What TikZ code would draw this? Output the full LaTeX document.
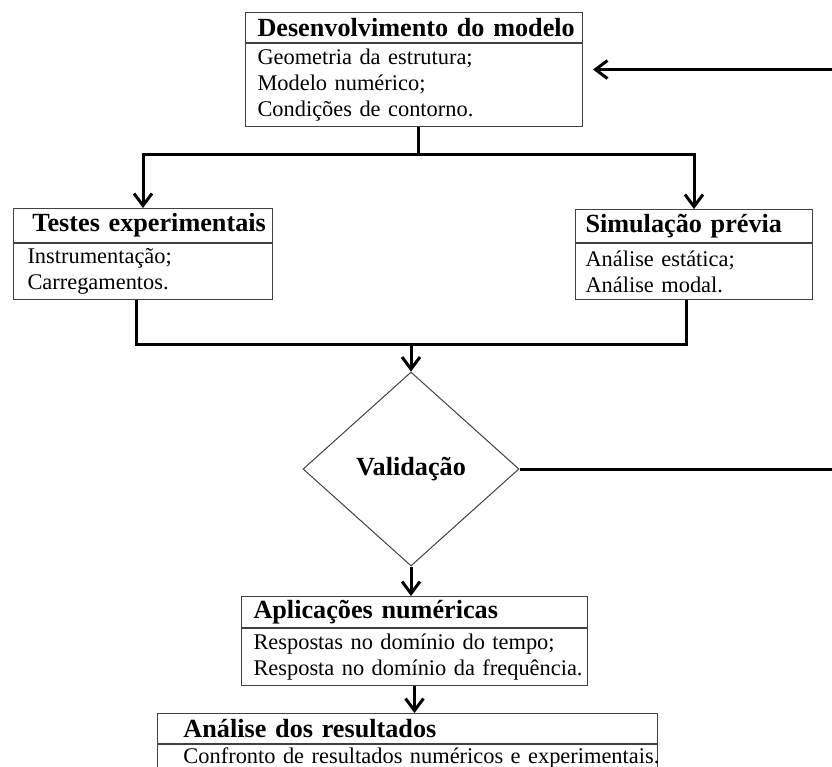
\documentclass[tikz,border=0pt]{standalone}
\usepackage{fontspec}
\setmainfont{Liberation Serif}
\usetikzlibrary{arrows.meta,positioning,shapes.geometric}

\begin{document}
\begin{tikzpicture}[x=0.5pt,y=-0.5pt,node distance=0pt,
  >={Straight Barb[length=6pt,width=9pt]},
  head/.style={draw=black!75,line width=0.5pt,align=left,anchor=north west,inner ysep=0pt,
    font={\fontsize{13.1}{15}\selectfont\bfseries}},
  body/.style={draw=black!75,line width=0.5pt,align=left,inner ysep=0pt,
    font={\fontsize{11.2}{13}\selectfont}},
  decision/.style={draw=black!75,line width=0.5pt,diamond,inner sep=0pt,
    font={\fontsize{13.1}{15}\selectfont\bfseries}},
  link/.style={line width=1.5pt}]
\useasboundingbox (0,0) rectangle (832,767);
\node[head,inner xsep=6pt,text width=156.5pt,minimum height=15pt] (toph) at (245,12) {\mbox{Desenvolvimento do modelo}};
\node[body,inner xsep=6pt,text width=156.5pt,minimum height=41.5pt,below=of toph] (topb) {Geometria da estrutura;\\ Modelo numérico;\\ Condições de contorno.};
\node[head,inner xsep=9.5pt,text width=110.5pt,minimum height=17pt] (testh) at (13,208) {\mbox{Testes experimentais}};
\node[body,inner xsep=7pt,text width=115.5pt,minimum height=28pt,below=of testh] (testb) {Instrumentação;\\ Carregamentos.};
\node[head,inner xsep=5pt,text width=108.5pt,minimum height=16.5pt] (simh) at (575,209) {\mbox{Simulação prévia}};
\node[body,inner xsep=5pt,text width=108.5pt,minimum height=28pt,below=of simh] (simb) {Análise estática;\\ Análise modal.};
\node[decision,minimum width=108pt,minimum height=97pt] (valid) at (411,469) {Validação};
\node[head,inner xsep=6pt,text width=161pt,minimum height=15.5pt] (aplh) at (241,596) {\mbox{Aplicações numéricas}};
\node[body,inner xsep=6pt,text width=161pt,minimum height=28.5pt,below=of aplh] (aplb) {\mbox{Respostas no domínio do tempo;}\\ \mbox{Resposta no domínio da frequência.}};
\node[head,inner xsep=13pt,text width=224pt,minimum height=15pt] (anah) at (157,713) {\mbox{Análise dos resultados}};
\node[body,inner xsep=13pt,text width=224pt,minimum height=13.5pt,below=of anah] (anab) {\mbox{Confronto de resultados numéricos e experimentais.}};
% junctions
\coordinate (split) at (418,154);
\coordinate (merge) at (411,344);
\coordinate (loop) at (850,0);
\draw[link] (topb.south -| split) -- (split);
\draw[link,->] (split) -| (testh.north);
\draw[link,->] (split) -| (simh.north);
\draw[link] ([xshift=-3.25pt]testb.south) -- ([xshift=-3.25pt]testb.south |- merge)
  -- ([xshift=-3.75pt]simb.south |- merge) -- ([xshift=-3.75pt]simb.south);
\draw[link,->] (merge) -- (valid.north);
\draw[link,->] (valid.south) -- (valid.south |- aplh.north);
\draw[link,->] (aplb.south) -- (aplb.south |- anah.north);
\draw[link,->] (valid.east) -- (valid.east -| loop) |- ([xshift=5pt,yshift=7.75pt]topb.east);
\end{tikzpicture}
\end{document}
